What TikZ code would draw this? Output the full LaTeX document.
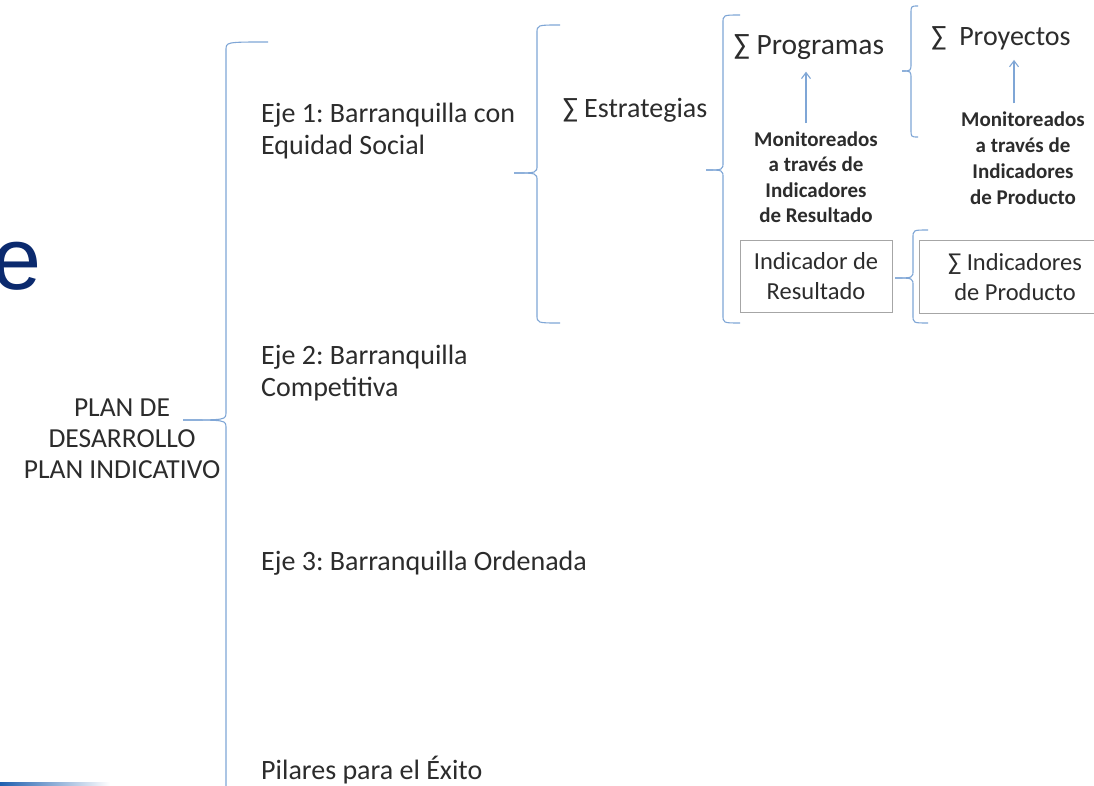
\documentclass[tikz,border=0pt]{standalone}
\usepackage{fontspec}
\setmainfont{Carlito}
\newfontfamily\titlefont{Liberation Sans}
\usetikzlibrary{arrows.meta}
\definecolor{bracecol}{HTML}{7FA6D6}
\definecolor{txtcol}{HTML}{2C2C2C}
\definecolor{navy}{HTML}{0B2A6E}
\definecolor{swoosh}{HTML}{1F5FAF}
\newcommand\mybrace[6]{% xv, ytop, ybot, ytip, xtip, xend
  \draw[bracestyle] (#6,#2) .. controls (#1,#2) .. (#1,#2+8) -- (#1,#4-8) .. controls (#1,#4) .. (#5,#4);
  \draw[bracestyle] (#5,#4) .. controls (#1,#4) .. (#1,#4+8) -- (#1,#3-8) .. controls (#1,#3) .. (#6,#3);
}
\tikzset{
  bracestyle/.style={draw=bracecol, line width=1.1pt},
  lbl/.style={text=txtcol, font=\fontsize{28}{32}\selectfont, inner sep=0pt},
  clbl/.style={lbl, align=center},
  llbl/.style={lbl, align=left, anchor=west},
  monlbl/.style={text=txtcol, font=\bfseries\fontsize{21}{26}\selectfont, align=center, inner sep=0pt},
  boxlbl/.style={text=txtcol, font=\fontsize{24.5}{30}\selectfont, align=center, inner sep=0pt},
  boxstyle/.style={draw=gray!70, line width=0.8pt},
  uparrow/.style={draw=bracecol, line width=1.1pt, -{Straight Barb[length=6pt,width=9pt]}},
}
\begin{document}
\frenchspacing
\begin{tikzpicture}[x=1pt,y=-1pt]
\useasboundingbox (0,0) rectangle (1094,786);
\fill[white] (0,0) rectangle (1094,786);
\begin{scope}
\clip (0,0) rectangle (1094,786);
% partial title letter at the left edge
\node[anchor=base east, text=navy, font=\titlefont\fontsize{88}{88}\selectfont, inner sep=0pt] (ttl) at (42,289) {e};
% bottom-left swoosh
\shade[left color=swoosh, right color=white] (0,782) rectangle (110,786);
% braces
\mybrace{226}{42}{830}{420}{183}{268}
\mybrace{537}{25}{323}{173}{514}{560}
\mybrace{723}{15}{323}{170}{706}{740}
\mybrace{911}{6}{137}{71}{902}{918}
\mybrace{913}{230}{323}{278}{895}{928}
% labels
\node[clbl, font=\fontsize{27.5}{31}\selectfont] (plan) at (122,439) {PLAN DE\\DESARROLLO\\PLAN INDICATIVO};
\node[llbl] (eje1) at (261,131) {Eje 1: Barranquilla con\\Equidad Social};
\node[llbl] (eje2) at (261,373) {Eje 2: Barranquilla\\Competitiva};
\node[llbl] (eje3) at (261,563) {Eje 3: Barranquilla Ordenada};
\node[llbl] (pil) at (261,770) {Pilares para el Éxito};
\node[clbl] (estr) at (635,110) {∑ Estrategias};
\node[clbl, font=\fontsize{29.5}{32}\selectfont] (prog) at (809,47) {∑ Programas};
\node[clbl] (proy) at (1001,38) {∑\ \ Proyectos};
\node[monlbl, font=\bfseries\fontsize{21}{25.5}\selectfont] (mon1) at (816,177) {Monitoreados\\a través de\\Indicadores\\de Resultado};
\node[monlbl] (mon2) at (1023,158) {Monitoreados\\a través de\\Indicadores\\de Producto};
\node[boxstyle, minimum width=152pt, minimum height=72pt, inner sep=0pt] (boxres) at (816,276) {};
\node[boxlbl] (ires) at (boxres.center) {Indicador de\\Resultado};
\node[boxstyle, minimum width=191pt, minimum height=73pt, inner sep=0pt] (boxprod) at (1014.5,276.5) {};
\node[boxlbl] (iprod) at (1015,277) {∑ Indicadores\\de Producto};
% arrows
\draw[uparrow, shorten <=8pt, shorten >=12pt] (mon1.north -| 806,0) -- (prog.south -| 806,0);
\draw[uparrow, shorten <=8pt, shorten >=10pt] (mon2.north -| 1014,0) -- (proy.south -| 1014,0);
\end{scope}
\end{tikzpicture}
\end{document}
